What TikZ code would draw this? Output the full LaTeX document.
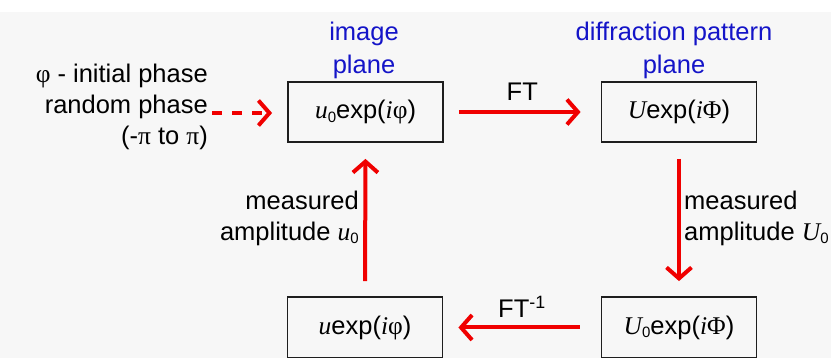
\documentclass[tikz,border=0pt]{standalone}
\usepackage{fontspec}
\setmainfont{Liberation Sans}
\newfontfamily\serf{Liberation Serif}
\usetikzlibrary{arrows.meta}
\definecolor{bg}{RGB}{247,247,247}
\definecolor{arrred}{RGB}{240,0,0}
\definecolor{lblblue}{RGB}{20,20,200}
\definecolor{boxline}{RGB}{30,30,30}
\newcommand\iv[1]{{\serf\itshape #1}}
\newcommand\up[1]{{\serf #1}}
\newcommand\zsub{\raisebox{-3.5pt}{\fontsize{15}{15}\selectfont 0}}
\tikzset{
  stagebox/.style={draw=boxline, line width=1.8pt, minimum width=155pt, minimum height=60pt, inner sep=0pt, font=\fontsize{25.5}{30}\selectfont},
  flow/.style={draw=arrred, line width=4pt, -{Straight Barb[length=11pt,width=25pt]}},
  txt/.style={font=\fontsize{25.5}{31}\selectfont, inner sep=0pt},
  bluetxt/.style={text=lblblue, align=center, font=\fontsize{25.5}{33}\selectfont, inner sep=0pt}
}
\begin{document}
\begin{tikzpicture}[x=1pt,y=-1pt]
\useasboundingbox (0,0) rectangle (831,358);
\fill[bg] (0,12) rectangle (831,358);
\fill[white] (0,0) rectangle (831,12);

\node[stagebox] (b1) at (365.5,112) {\iv{u}\zsub exp(\iv{i}\up{φ})};
\node[stagebox] (b2) at (679,112) {\iv{U}exp(\iv{i}\up{Φ})};
\node[stagebox, minimum height=61pt] (b3) at (365,327.5) {\iv{u}exp(\iv{i}\up{φ})};
\node[stagebox, minimum height=61pt] (b4) at (679,327.5) {\iv{U}\zsub exp(\iv{i}\up{Φ})};

\node[bluetxt] (lab1) at (364,50) {image\\plane};
\node[bluetxt] (lab2) at (674,50) {diffraction pattern\\plane};

\node[txt, align=right, anchor=east] (init) at (208,107) {\up{φ} - initial phase\\random phase\\(-\up{π} to \up{π})};
\coordinate (dstart) at (212,113);

\draw[flow, dash pattern=on 10pt off 10pt, shorten >=15pt] (dstart) -- (b1.west |- dstart);

\draw[flow, shorten <=15pt, shorten >=20pt] (b1.east) -- node[txt, above=9pt] (ft) {FT} (b2.west);
\draw[flow, shorten <=16pt, shorten >=15pt] (b2.south) -- (b4.north);
\draw[flow, shorten <=21pt, shorten >=15pt] (b4.west) -- node[txt, above=8pt] (ift) {FT\textsuperscript{-1}} (b3.east);
\draw[flow, shorten <=15pt, shorten >=16pt] (b3.north) -- (b1.south);

\node[txt, align=right, anchor=east] (mleft) at (359,218) {measured\\amplitude \iv{u}\zsub};
\node[txt, align=left, anchor=west] (mright) at (684,218) {measured\\amplitude \iv{U}\zsub};
\end{tikzpicture}
\end{document}
